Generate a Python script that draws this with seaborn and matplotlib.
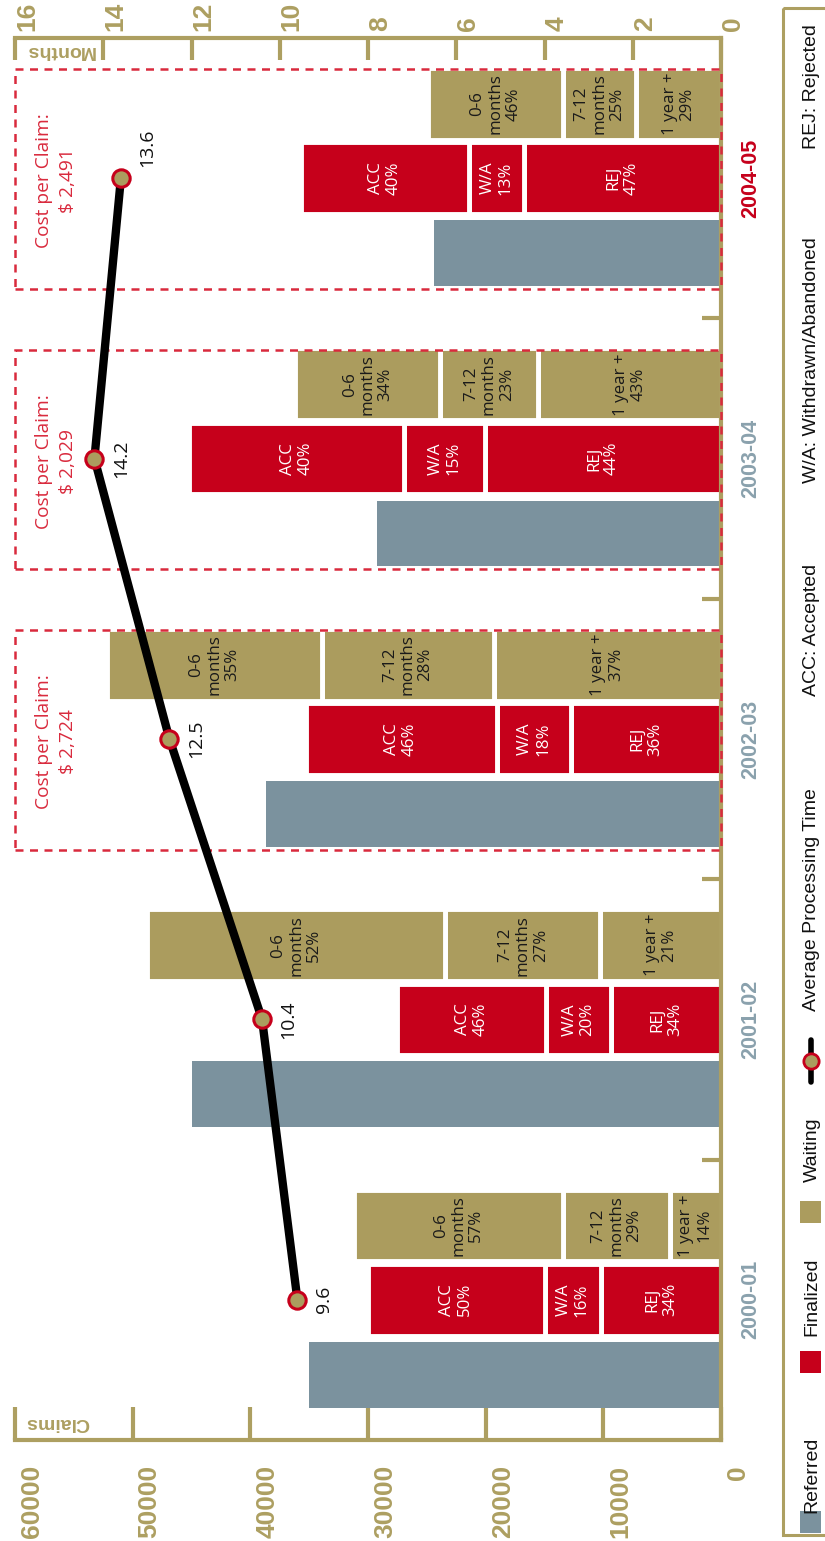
import numpy as np
import pandas as pd
import matplotlib
matplotlib.use("Agg")
import matplotlib.pyplot as plt
import matplotlib.transforms as mtransforms
from matplotlib.patches import Rectangle
from matplotlib.lines import Line2D
import seaborn as sns

# ---------------- data ----------------
years = ["2000-01", "2001-02", "2002-03", "2003-04", "2004-05"]
referred = [35000, 45000, 38700, 29200, 24400]
finalized = [30000, 27500, 35300, 45200, 35700]
waiting = [31200, 48800, 52200, 36200, 24900]

# outcome of finalized claims (%)
acc_pct = [50, 46, 46, 40, 40]
wa_pct = [16, 20, 18, 15, 13]
rej_pct = [34, 34, 36, 44, 47]

# age of claims still waiting (%)
m06_pct = [57, 52, 35, 34, 46]
m712_pct = [29, 27, 28, 23, 25]
y1_pct = [14, 21, 37, 43, 29]

# average processing time (months)
avg_months = [9.6, 10.4, 12.5, 14.2, 13.6]

cost_years = ["2002-03", "2003-04", "2004-05"]
cost_per_claim = [2724, 2029, 2491]

claims_ticks = [0, 10000, 20000, 30000, 40000, 50000, 60000]
month_ticks = [0, 2, 4, 6, 8, 10, 12, 14, 16]

# ---------------- style ----------------
BLUE = "#7b929e"
RED = "#c6001b"
TAN = "#ab9c5e"
AXIS = "#ad9f61"
YEAR_BLUE = "#8aa1ad"
BOX_RED = "#d92a3d"

sns.set_style("white")
plt.rcParams["font.family"] = ["Liberation Sans", "DejaVu Sans"]
BAR_FONT = ["Open Sans", "DejaVu Sans"]

W, H = 825, 1541
fig = plt.figure(figsize=(W / 100, H / 100), dpi=100)


def px_box(x0, y0, x1, y1):
    """Pixel box (top-left origin) -> figure fraction rectangle."""
    return [x0 / W, 1 - y1 / H, (x1 - x0) / W, (y1 - y0) / H]


ax = fig.add_axes(px_box(15, 38, 721, 1440))
pos = np.arange(len(years))

# Referred claims: one bar per year
ref_df = pd.DataFrame({"pos": pos - 0.267, "claims": referred})
sns.barplot(data=ref_df, x="claims", y="pos", orient="y", native_scale=True,
            width=0.235, color=BLUE, saturation=1, linewidth=0,
            errorbar=None, ax=ax)


def stacked(totals, pct_rows, names, offset, fill, text_color):
    pct = np.array(pct_rows, dtype=float)
    shares = pct / pct.sum(axis=0)
    left = np.zeros(len(totals))
    for k, name in enumerate(names):
        seg = shares[k] * np.array(totals, dtype=float)
        ax.barh(pos + offset, seg, left=left, height=0.256, color=fill,
                edgecolor="white", linewidth=3.5, zorder=2)
        for i in range(len(totals)):
            ax.text(left[i] + seg[i] / 2, pos[i] + offset,
                    f"{name}\n{pct[k, i]:.0f}%", rotation=90,
                    ha="center", va="center", multialignment="center",
                    color=text_color, fontsize=12.2, family=BAR_FONT,
                    linespacing=1.15, zorder=3)
        left += seg


# Finalized claims split by outcome (rejected nearest the axis)
stacked(finalized, [rej_pct, wa_pct, acc_pct], ["REJ", "W/A", "ACC"],
        0.0, RED, "white")
# Waiting claims split by age
stacked(waiting, [y1_pct, m712_pct, m06_pct],
        ["1 year +", "7-12\nmonths", "0-6\nmonths"], 0.265, TAN, "#1a1a1a")

# cost-per-claim boxes
trans = mtransforms.blended_transform_factory(ax.transAxes, ax.transData)
for yr, cost in zip(cost_years, cost_per_claim):
    i = years.index(yr)
    ax.add_patch(Rectangle((0, pos[i] - 0.395), 1, 0.783, transform=trans,
                           fill=False, edgecolor=BOX_RED, linewidth=1.8,
                           linestyle=(0, (3.2, 2.6)), zorder=4, clip_on=False))
    ax.text(0.058, pos[i] - 0.01, f"Cost per Claim:\n$ {cost:,}",
            transform=trans, rotation=90, ha="center", va="center",
            multialignment="center", color=BOX_RED, fontsize=13.8,
            family=BAR_FONT, linespacing=1.4, zorder=4)

# axes styling (claims scale runs right-to-left)
ax.set_xlim(60000, 0)
ax.set_ylim(-0.5, 4.5)
ax.set_xlabel("")
ax.set_ylabel("")
ax.set_xticks(claims_ticks)
ax.set_xticklabels([str(t) for t in claims_ticks])
ax.tick_params(axis="x", which="major", direction="in", length=24, width=3,
               color=AXIS, pad=18, labelsize=19, labelcolor=AXIS,
               labelrotation=90, bottom=True, top=False)
shift = mtransforms.ScaledTranslation(0.17, 0, fig.dpi_scale_trans)
for lab in ax.get_xticklabels():
    lab.set_fontweight("bold")
    lab.set_transform(lab.get_transform() + shift)

ax.set_yticks(pos)
ax.set_yticklabels(years)
ax.set_yticks(pos[:-1] + 0.5, minor=True)
ax.yaxis.tick_right()
ax.tick_params(axis="y", which="major", length=0, pad=14, labelsize=15.5,
               labelrotation=90, right=True, left=False)
ax.tick_params(axis="y", which="minor", direction="in", length=14, width=3,
               color=AXIS, right=True, left=False)
for lab, yr in zip(ax.get_yticklabels(), years):
    lab.set_color(RED if yr == "2004-05" else YEAR_BLUE)
    lab.set_fontweight("bold")
    lab.set_va("center")

ax.spines["left"].set_visible(False)
for side in ("top", "right", "bottom"):
    ax.spines[side].set_color(AXIS)
    ax.spines[side].set_linewidth(3)

# average processing time on a months scale
ax2 = ax.twiny()
line_df = pd.DataFrame({"months": avg_months, "pos": pos})
sns.lineplot(data=line_df, x="months", y="pos", orient="y", estimator=None,
             color="black", linewidth=6, marker="o", markersize=12.5,
             markerfacecolor=TAN, markeredgecolor=RED, markeredgewidth=2.2,
             ax=ax2, zorder=5)
ax2.set_xlim(16, 0)
ax2.set_ylim(-0.5, 4.5)
ax2.set_xlabel("")
ax2.set_ylabel("")
ax2.set_xticks(month_ticks)
ax2.set_xticklabels([str(t) for t in month_ticks])
ax2.tick_params(axis="x", which="major", direction="in", length=16, width=3,
                color=AXIS, pad=5, labelsize=19, labelcolor=AXIS,
                labelrotation=90, top=True, bottom=False)
shift2 = mtransforms.ScaledTranslation(0.12, 0, fig.dpi_scale_trans)
for lab in ax2.get_xticklabels():
    lab.set_fontweight("bold")
    lab.set_transform(lab.get_transform() + shift2)
for side in ax2.spines:
    ax2.spines[side].set_visible(False)

label_dy = [0, 0, 0, 0, 22]
for i, v in enumerate(avg_months):
    ax2.annotate(f"{v:.1f}", (v, pos[i]), xytext=(19, label_dy[i]),
                 textcoords="offset points", rotation=90, ha="center",
                 va="center", fontsize=14, family=BAR_FONT, color="#111111",
                 zorder=6)

fig.text(57 / W, 1 - 1422 / H, "Claims", rotation=180, ha="center",
         va="center", fontsize=14, fontweight="bold", color=AXIS)
fig.text(60 / W, 1 - 50 / H, "Months", rotation=180, ha="center",
         va="center", fontsize=14, fontweight="bold", color=AXIS)

# legend strip along the right edge
lax = fig.add_axes([0, 0, 1, 1], facecolor="none")
lax.set_xlim(0, W)
lax.set_ylim(H, 0)
lax.axis("off")
lax.add_patch(Rectangle((783, 8), 80, 1527, fill=False, edgecolor=AXIS,
                        linewidth=2.2))
for color, yc in ((BLUE, 1522), (RED, 1362), (TAN, 1212)):
    lax.add_patch(Rectangle((800, yc - 11), 21, 22, facecolor=color,
                            edgecolor="none"))
lax.add_line(Line2D([811, 811], [1040, 1082], color="black", linewidth=4))
lax.add_line(Line2D([811], [1061], marker="o", markersize=11,
                    markerfacecolor=TAN, markeredgecolor=RED,
                    markeredgewidth=2))
legend_texts = [("Referred", 1475), ("Finalized", 1297), ("Waiting", 1150),
                ("Average Processing Time", 900), ("ACC: Accepted", 630),
                ("W/A: Withdrawn/Abandoned", 360), ("REJ: Rejected", 87)]
for txt, yc in legend_texts:
    lax.text(812, yc, txt, rotation=90, ha="center", va="center",
             fontsize=14, color="#111111")

fig.savefig("out.png", dpi=100)
